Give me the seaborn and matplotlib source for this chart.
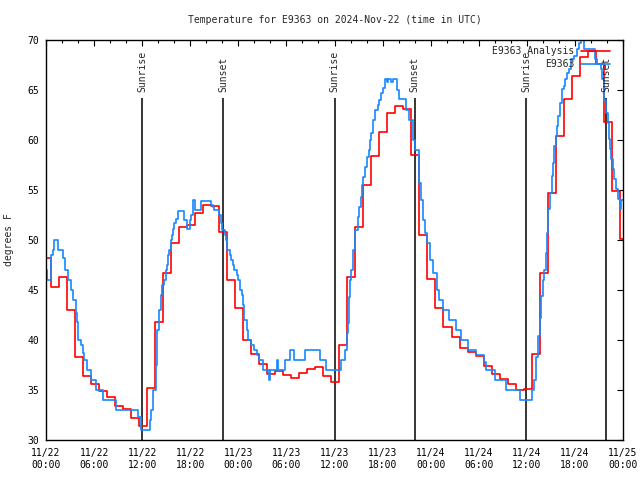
import numpy as np
import pandas as pd
import matplotlib
matplotlib.use('Agg')
import matplotlib.pyplot as plt
import seaborn as sns

sns.set_style('white')
plt.rcParams['font.family'] = ['DejaVu Sans Mono']
plt.rcParams['font.size'] = 7

# hours since 2024-11-22 00:00 UTC
# analysis: one value per hourly step (first value before the 00:36 step)
red_temps = [48.2, 45.3, 46.3, 43.0, 38.3, 36.4, 35.6, 34.9, 34.3, 33.4, 33.1, 32.2,
             31.4, 35.2, 41.8, 46.7, 49.7, 51.3, 51.5, 52.7, 53.5, 53.4, 50.8, 46.0,
             43.2, 40.0, 38.6, 37.6, 36.6, 36.9, 36.5, 36.2, 36.7, 37.1, 37.3, 36.4,
             35.8, 39.5, 46.3, 51.3, 55.5, 58.4, 60.8, 62.7, 63.4, 63.1, 58.5, 50.5,
             46.1, 43.2, 41.3, 40.3, 39.2, 38.8, 38.4, 37.4, 36.6, 36.1, 35.6, 35.0,
             35.1, 38.6, 46.7, 54.7, 60.4, 64.1, 66.4, 68.3, 68.9, 67.6, 61.8, 54.9, 50.1]
red_hours = [0.0] + list(np.arange(72) + 0.6)

# observations (step change points)
blue_hours = [0.0, 0.1, 0.65, 0.9, 1.05, 1.5, 2.1, 2.4, 2.8, 3.1, 3.35, 3.7, 3.85, 3.95,
              4.05, 4.4, 4.6, 4.75, 5.1, 5.6, 6.2, 7.1, 8.7, 11.5, 11.9, 13.0, 13.1, 13.3,
              13.7, 13.8, 13.9, 14.1, 14.3, 14.5, 14.7, 15.0, 15.1, 15.25, 15.4, 15.6, 15.7,
              15.8, 16.0, 16.2, 16.5, 17.2, 17.6, 18.0, 18.1, 18.3, 18.4, 18.55, 19.4, 20.6,
              20.8, 21.0, 21.6, 21.8, 22.0, 22.3, 22.5, 22.6, 22.9, 23.1, 23.3, 23.5, 23.8,
              24.0, 24.2, 24.4, 24.6, 24.75, 25.05, 25.25, 25.6, 25.9, 26.3, 26.6, 27.1,
              27.8, 27.9, 28.8, 28.9, 29.8, 30.4, 30.9, 32.3, 34.2, 35.0, 36.8, 37.3, 37.5,
              37.65, 37.8, 37.95, 38.1, 38.35, 38.5, 38.6, 38.95, 39.1, 39.3, 39.4, 39.6,
              39.85, 40.1, 40.3, 40.45, 40.6, 40.8, 41.0, 41.4, 41.6, 41.8, 42.0, 42.25,
              42.5, 42.7, 43.1, 43.3, 43.8, 44.1, 44.9, 45.35, 45.85, 46.05, 46.5, 46.75,
              47.1, 47.35, 47.55, 47.95, 48.35, 48.75, 49.1, 49.6, 50.35, 51.1, 51.8, 52.7,
              53.6, 54.7, 54.9, 56.0, 57.35, 59.1, 60.6, 60.9, 61.2, 61.45, 61.6, 61.8,
              62.0, 62.2, 62.4, 62.55, 62.7, 62.9, 63.1, 63.25, 63.4, 63.6, 63.75, 63.95,
              64.15, 64.4, 64.6, 64.8, 65.0, 65.2, 65.5, 65.85, 66.25, 66.5, 66.7, 67.1,
              68.5, 68.75, 69.2, 69.4, 69.6, 69.9, 70.1, 70.2, 70.35, 70.5, 70.75, 70.9,
              71.1, 71.4, 71.6, 71.75, 72.0]
blue_temps = [47.0, 46.0, 48.5, 49.0, 50.0, 49.0, 48.2, 47.0, 46.0, 45.0, 44.0, 42.7, 41.8, 41.0,
              40.0, 39.5, 38.7, 38.0, 37.0, 36.0, 35.0, 34.0, 33.0, 32.3, 31.0, 32.0, 33.0, 35.0,
              37.5, 39.5, 41.0, 43.0, 44.5, 45.5, 46.0, 47.0, 47.5, 48.5, 49.0, 50.0, 50.5,
              51.1, 51.7, 52.1, 52.9, 52.0, 51.1, 52.0, 52.5, 53.5, 54.0, 53.0, 53.9, 53.5,
              53.3, 53.0, 52.5, 51.7, 51.0, 50.5, 50.0, 49.0, 48.5, 48.0, 47.5, 47.0, 46.5,
              46.0, 45.0, 44.5, 43.5, 42.0, 41.0, 40.0, 39.5, 39.0, 38.5, 38.0, 37.0,
              36.0, 37.0, 38.0, 37.0, 38.0, 39.0, 38.0, 39.0, 38.0, 37.0, 38.0, 39.0, 40.7,
              41.7, 44.3, 46.0, 47.0, 49.0, 50.0, 51.0, 52.3, 53.3, 54.3, 55.5, 56.3,
              57.3, 58.3, 59.0, 60.0, 60.7, 62.0, 63.0, 63.5, 64.0, 64.7, 65.2, 66.1,
              65.8, 66.1, 65.8, 66.1, 65.0, 64.1, 63.0, 62.0, 60.0, 59.0, 55.7, 54.0,
              52.0, 50.7, 49.7, 48.0, 46.7, 45.0, 44.0, 43.0, 42.0, 41.0, 40.0, 39.0,
              38.5, 37.8, 37.0, 36.0, 35.0, 34.0, 35.0, 36.0, 38.3, 40.4, 42.2, 44.4,
              46.0, 47.0, 48.7, 50.7, 53.1, 54.7, 56.4, 57.7, 59.4, 60.4, 61.4, 62.4,
              63.7, 65.1, 65.4, 66.1, 66.7, 67.1, 68.1, 68.4, 69.1, 69.7, 70.0, 69.1,
              68.1, 67.6, 67.1, 66.1, 64.0, 62.7, 61.7, 60.1, 59.1, 58.1, 57.1, 56.1,
              55.1, 54.1, 53.1, 54.0, 54.0]

sunrise_hours = [12.03, 36.0, 59.95]
sunset_hours = [22.1, 46.0, 69.9]

tick_hours = [0, 6, 12, 18, 24, 30, 36, 42, 48, 54, 60, 66, 72]
tick_labels = ['11/22\n00:00', '11/22\n06:00', '11/22\n12:00', '11/22\n18:00',
               '11/23\n00:00', '11/23\n06:00', '11/23\n12:00', '11/23\n18:00',
               '11/24\n00:00', '11/24\n06:00', '11/24\n12:00', '11/24\n18:00',
               '11/25\n00:00']

red_df = pd.DataFrame({'hours': red_hours + [72.0], 'temp': red_temps + [red_temps[-1]],
                       'series': 'E9363 Analysis'})
blue_df = pd.DataFrame({'hours': blue_hours, 'temp': blue_temps, 'series': 'E9363'})
df = pd.concat([red_df, blue_df], ignore_index=True)

fig = plt.figure(figsize=(6.4, 4.8), dpi=100)
ax = fig.add_axes([46/640, 40/480, 577/640, 400/480])

# sunrise / sunset markers
ax.vlines(sunrise_hours + sunset_hours, 30, 64.2, colors='black', lw=1.1)
for h in sunrise_hours:
    ax.text(h, 64.8, 'Sunrise', rotation=90, ha='center', va='bottom')
for h in sunset_hours:
    ax.text(h, 64.8, 'Sunset', rotation=90, ha='center', va='bottom')

sns.lineplot(data=df, x='hours', y='temp', hue='series',
             hue_order=['E9363 Analysis', 'E9363'], palette=['#ff0000', '#1688ff'],
             drawstyle='steps-post', estimator=None, sort=False, lw=1.2, ax=ax)

handles, labels = ax.get_legend_handles_labels()
ax.legend(handles, labels, loc='upper right', bbox_to_anchor=(0.977, 0.985),
          frameon=False, markerfirst=False, borderpad=0, borderaxespad=0,
          handlelength=3.0, handletextpad=0.6, labelspacing=0.3)

ax.set_xlim(0, 72)
ax.set_ylim(30, 70)
ax.set_xticks(tick_hours)
ax.set_xticklabels(tick_labels)
ax.set_xticks(np.arange(0, 73, 2), minor=True)
ax.set_yticks([30, 35, 40, 45, 50, 55, 60, 65, 70])
ax.tick_params(which='both', direction='in', top=True, right=True, colors='black')
ax.tick_params(which='major', length=4, width=0.8)
ax.tick_params(which='minor', length=2, width=0.8)
ax.tick_params(axis='x', which='major', pad=6)
ax.tick_params(axis='y', which='major', pad=5)
for s in ax.spines.values():
    s.set_color('black')
    s.set_linewidth(1)

ax.set_xlabel('')
ax.set_ylabel('degrees F')
ax.yaxis.set_label_coords(-0.055, 0.5)
ax.set_title('Temperature for E9363 on 2024-Nov-22 (time in UTC)', fontsize=7, pad=12)

fig.savefig('out.png', dpi=100)
